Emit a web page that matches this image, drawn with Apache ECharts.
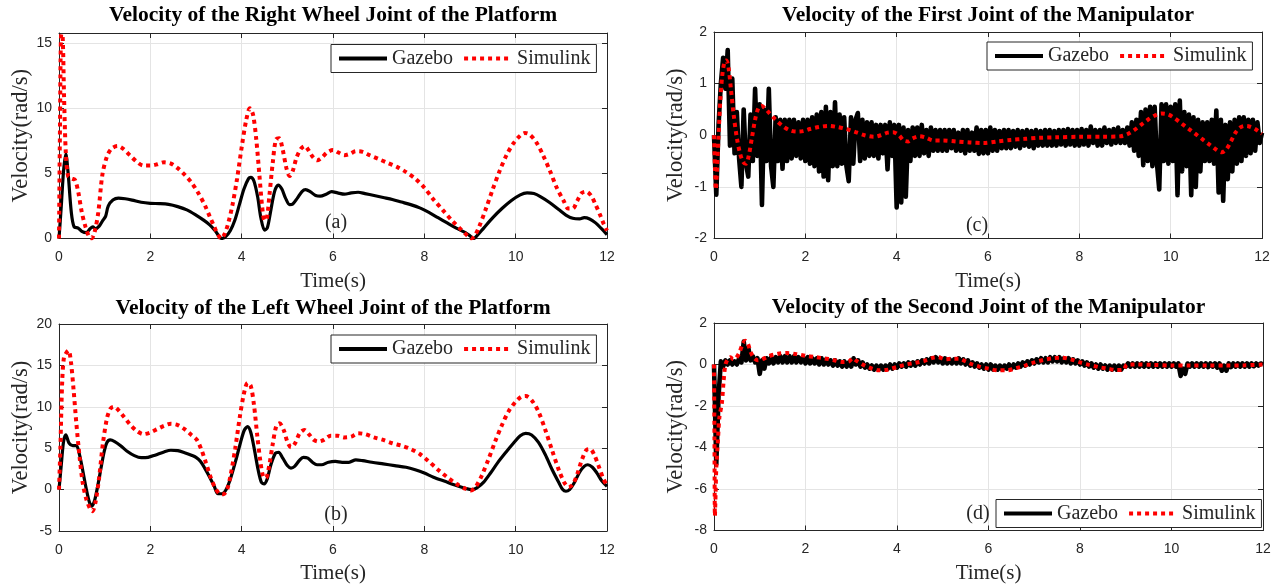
<!DOCTYPE html>
<html>
<head>
<meta charset="utf-8">
<script src="https://cdn.jsdelivr.net/npm/echarts@6.0.0/dist/echarts.min.js"></script>
<style>
  html, body { margin: 0; padding: 0; background: #ffffff; }
  #chart { width: 1281px; height: 585px; }
</style>
</head>
<body>
<div id="chart"></div>
<script>
// ---- Panel texts ----
const titles = [
  'Velocity of the Right Wheel Joint of the Platform',
  'Velocity of the Left Wheel Joint of the Platform',
  'Velocity of the First Joint of the Manipulator',
  'Velocity of the Second Joint of the Manipulator'
];
const tags = ['(a)', '(b)', '(c)', '(d)'];
const seriesNames = ['Gazebo', 'Simulink'];
const xLabel = 'Time(s)';
const yLabel = 'Velocity(rad/s)';

// ---- Axis ranges (tick spacing) ----
const xRange = { min: 0, max: 12, interval: 2 };
const yRanges = [
  { min: 0, max: 15.78, interval: 5 },
  { min: -5, max: 20, interval: 5 },
  { min: -2, max: 2, interval: 1 },
  { min: -8, max: 2, interval: 2 }
];

// ---- (a) right wheel joint, [time s, rad/s] ----
const rightWheelGazebo = [
  [0,0],[0.05,2.5],[0.1,5.2],[0.15,6.5],[0.2,5.0],[0.27,2.0],[0.33,0.9],[0.42,0.8],[0.5,0.55],[0.6,0.45],
  [0.68,0.75],[0.74,0.9],[0.8,0.75],[0.88,0.95],[0.96,1.4],[1.02,1.7],[1.08,2.5],[1.18,2.95],[1.3,3.1],[1.45,3.05],
  [1.6,2.95],[1.8,2.78],[2.0,2.7],[2.2,2.68],[2.4,2.62],[2.6,2.45],[2.8,2.2],[3.0,1.8],[3.15,1.45],[3.3,1.05],
  [3.42,0.6],[3.5,0.2],[3.56,0.0],[3.65,0.15],[3.75,0.6],[3.85,1.4],[3.95,2.6],[4.05,3.8],[4.15,4.6],[4.2,4.7],
  [4.27,4.4],[4.35,3.2],[4.42,1.6],[4.5,0.65],[4.56,0.8],[4.63,2.0],[4.72,3.6],[4.8,4.1],[4.88,3.8],[4.96,3.1],
  [5.05,2.6],[5.12,2.65],[5.22,3.1],[5.32,3.6],[5.4,3.75],[5.5,3.6],[5.62,3.3],[5.72,3.25],[5.85,3.4],[5.97,3.6],
  [6.1,3.5],[6.25,3.4],[6.4,3.5],[6.55,3.55],[6.7,3.45],[6.9,3.3],[7.1,3.15],[7.3,3.0],[7.5,2.8],[7.7,2.6],
  [7.9,2.35],[8.1,2.0],[8.3,1.6],[8.5,1.2],[8.7,0.8],[8.9,0.45],[9.0,0.2],[9.08,0.0],[9.15,0.2],[9.3,0.8],
  [9.5,1.6],[9.7,2.3],[9.9,2.9],[10.1,3.35],[10.25,3.5],[10.4,3.45],[10.55,3.2],[10.75,2.75],[10.95,2.2],[11.1,1.8],
  [11.25,1.55],[11.4,1.5],[11.5,1.6],[11.62,1.5],[11.75,1.2],[11.88,0.75],[12,0.3]
];
const rightWheelSimulink = [
  [0,0],[0.02,8],[0.05,15.7],[0.08,15.5],[0.11,11],[0.15,6.5],[0.2,4.8],[0.28,4.6],[0.35,4.5],[0.42,3.6],
  [0.5,2.0],[0.58,0.9],[0.65,0.2],[0.71,0.0],[0.78,0.5],[0.86,2.0],[0.95,4.9],[1.05,6.3],[1.15,6.9],[1.28,7.1],
  [1.4,6.9],[1.55,6.4],[1.7,5.9],[1.85,5.6],[2.0,5.6],[2.15,5.7],[2.3,5.85],[2.45,5.75],[2.6,5.4],[2.75,4.9],
  [2.9,4.3],[3.05,3.5],[3.2,2.5],[3.3,1.7],[3.4,0.9],[3.48,0.3],[3.55,0.0],[3.62,0.3],[3.7,1.1],[3.8,2.6],
  [3.9,4.6],[4.0,7.0],[4.1,9.1],[4.18,10.0],[4.25,9.5],[4.32,7.6],[4.39,4.8],[4.45,2.4],[4.5,1.4],[4.55,1.5],
  [4.61,3.4],[4.68,5.8],[4.75,7.6],[4.82,7.7],[4.9,6.8],[4.98,5.4],[5.05,4.8],[5.12,5.2],[5.2,6.2],[5.3,6.9],
  [5.38,7.1],[5.46,6.8],[5.55,6.3],[5.65,6.0],[5.75,6.2],[5.87,6.6],[6.0,6.8],[6.12,6.6],[6.25,6.4],[6.37,6.5],
  [6.5,6.7],[6.65,6.65],[6.8,6.4],[7.0,6.1],[7.2,5.8],[7.4,5.5],[7.6,5.1],[7.8,4.6],[8.0,3.9],[8.2,3.0],
  [8.4,2.2],[8.6,1.4],[8.8,0.7],[8.95,0.2],[9.03,0.0],[9.1,0.2],[9.2,0.9],[9.35,2.3],[9.5,3.8],[9.65,5.2],
  [9.8,6.4],[9.95,7.3],[10.1,7.9],[10.2,8.1],[10.3,8.0],[10.45,7.4],[10.6,6.4],[10.75,5.2],[10.9,3.9],[11.05,2.9],
  [11.15,2.3],[11.25,2.3],[11.35,2.9],[11.45,3.5],[11.55,3.6],[11.65,3.3],[11.75,2.6],[11.85,1.8],[11.93,1.1],[12,0.6]
];

// ---- (b) left wheel joint, [time s, rad/s] ----
const leftWheelGazebo = [
  [0,0],[0.05,3.0],[0.1,5.8],[0.15,6.6],[0.22,5.6],[0.3,5.3],[0.38,5.3],[0.45,4.2],[0.52,2.3],[0.6,0.0],
  [0.67,-1.6],[0.72,-2.0],[0.78,-1.3],[0.85,0.5],[0.92,2.6],[0.99,4.6],[1.05,5.7],[1.12,6.0],[1.22,5.8],[1.35,5.3],
  [1.5,4.6],[1.65,4.1],[1.8,3.85],[1.95,3.9],[2.1,4.15],[2.3,4.55],[2.45,4.75],[2.6,4.7],[2.75,4.45],[2.9,4.15],
  [3.0,3.9],[3.1,3.4],[3.2,2.5],[3.3,1.5],[3.4,0.4],[3.48,-0.5],[3.57,-0.5],[3.66,0.0],[3.76,1.4],[3.88,3.7],
  [3.98,5.8],[4.06,7.2],[4.13,7.6],[4.2,6.9],[4.28,4.8],[4.36,2.4],[4.43,0.9],[4.49,0.7],[4.56,1.3],[4.64,3.0],
  [4.74,4.4],[4.81,4.5],[4.9,3.8],[5.0,2.9],[5.08,2.6],[5.16,2.8],[5.26,3.5],[5.35,3.9],[5.45,3.8],[5.55,3.3],
  [5.65,3.0],[5.75,3.0],[5.9,3.3],[6.05,3.4],[6.2,3.3],[6.35,3.3],[6.5,3.6],[6.65,3.5],[6.85,3.3],[7.1,3.1],
  [7.35,2.9],[7.6,2.7],[7.8,2.4],[8.0,2.0],[8.2,1.5],[8.45,1.0],[8.7,0.5],[8.9,0.15],[9.05,0.0],[9.15,0.2],
  [9.3,0.9],[9.45,2.0],[9.6,3.2],[9.8,4.6],[9.95,5.6],[10.1,6.5],[10.22,6.8],[10.35,6.6],[10.5,5.7],[10.65,4.2],
  [10.8,2.4],[10.95,0.8],[11.03,0.0],[11.1,-0.2],[11.18,0.0],[11.28,0.8],[11.4,2.1],[11.5,2.8],[11.58,3.0],[11.68,2.7],
  [11.78,2.0],[11.88,1.1],[12,0.4]
];
const leftWheelSimulink = [
  [0,0],[0.03,5],[0.07,13],[0.11,16],[0.17,16.6],[0.21,16.8],[0.26,15.5],[0.32,12],[0.38,8],[0.45,4.0],
  [0.52,0.8],[0.6,-1.2],[0.68,-2.3],[0.73,-2.6],[0.8,-1.5],[0.88,1.5],[0.96,5.5],[1.05,8.6],[1.13,9.8],[1.2,10.0],
  [1.3,9.6],[1.42,8.8],[1.55,7.9],[1.7,7.1],[1.85,6.7],[2.0,6.9],[2.15,7.3],[2.3,7.7],[2.45,7.95],[2.6,7.8],
  [2.75,7.3],[2.9,6.6],[3.02,6.0],[3.12,4.8],[3.22,3.2],[3.32,1.5],[3.42,0.2],[3.52,-0.5],[3.6,-0.55],[3.68,0.0],
  [3.76,1.8],[3.86,5.0],[3.96,8.8],[4.05,11.6],[4.13,12.9],[4.2,12.5],[4.27,10.2],[4.34,6.6],[4.41,3.4],[4.47,1.6],
  [4.53,1.4],[4.6,2.8],[4.68,5.5],[4.76,7.7],[4.83,8.0],[4.92,7.2],[5.0,5.8],[5.08,5.1],[5.17,5.6],[5.27,6.8],
  [5.37,7.2],[5.47,6.7],[5.58,6.0],[5.68,5.8],[5.8,6.0],[5.95,6.5],[6.1,6.5],[6.25,6.3],[6.4,6.4],[6.55,6.8],
  [6.7,6.7],[6.9,6.3],[7.1,6.0],[7.3,5.6],[7.5,5.3],[7.7,4.9],[7.9,4.3],[8.1,3.4],[8.3,2.4],[8.5,1.5],
  [8.7,0.7],[8.9,0.1],[9.02,-0.1],[9.12,0.3],[9.25,1.6],[9.4,3.6],[9.55,5.8],[9.7,7.8],[9.85,9.5],[10.0,10.6],
  [10.12,11.2],[10.22,11.3],[10.35,10.8],[10.5,9.4],[10.65,7.2],[10.8,4.7],[10.95,2.3],[11.07,0.8],[11.16,0.3],[11.25,0.6],
  [11.35,1.9],[11.45,3.6],[11.55,4.8],[11.63,4.9],[11.72,4.2],[11.82,2.8],[11.92,1.3],[12,0.5]
];

// ---- (c) first manipulator joint ----
// Gazebo is logged every 0.05 s (one row per second)
const firstJointGazebo = [
  0.0,-1.15,0.2,1.0,1.5,0.9,1.65,-0.2,1.1,-0.35,0.45,-0.45,-1.0,0.5,-0.55,-0.8,0.4,-0.5,0.9,-0.4,
  0.6,-1.35,0.5,-0.5,0.9,-0.6,-1.0,0.35,-0.5,0.3,-0.65,0.3,-0.5,0.3,-0.45,0.3,-0.4,0.25,-0.45,0.3,
  -0.5,0.3,-0.55,0.35,-0.6,0.4,-0.7,0.45,-0.8,0.55,-0.87,0.45,-0.6,0.64,-0.6,0.4,-0.55,0.35,-0.6,-0.89,
  0.35,-0.55,0.3,0.43,-0.5,0.3,-0.45,0.25,-0.4,0.25,-0.4,0.2,-0.45,0.2,-0.35,0.2,-0.66,0.25,-0.4,0.2,
  -1.4,0.2,-1.3,0.15,-1.19,0.1,-0.5,0.15,-0.4,0.15,-0.4,0.2,-0.35,0.1,-0.4,0.15,-0.3,0.1,-0.3,0.1,
  -0.3,0.1,-0.3,0.1,-0.25,0.1,-0.3,0.05,-0.3,0.1,-0.35,0.1,-0.3,0.05,-0.3,0.15,-0.36,0.1,-0.35,0.1,
  -0.35,0.15,-0.3,0.1,-0.3,0.08,-0.25,0.1,-0.25,0.1,-0.25,0.08,-0.22,0.1,-0.25,0.08,-0.2,0.1,-0.22,0.08,
  -0.25,0.1,-0.2,0.08,-0.2,0.1,-0.2,0.1,-0.2,0.08,-0.2,0.1,-0.18,0.1,-0.2,0.12,-0.18,0.1,-0.2,0.1,
  -0.2,0.12,-0.18,0.1,-0.2,0.17,-0.15,0.1,-0.2,0.1,-0.2,0.15,-0.15,0.1,-0.18,0.12,-0.15,0.15,-0.15,0.1,
  -0.15,0.15,-0.2,0.25,-0.3,0.3,-0.4,0.45,-0.58,0.5,-0.5,0.55,-0.6,0.55,-0.55,-1.05,0.6,-0.5,0.6,-0.55,
  0.55,-0.5,0.6,-1.16,0.67,-0.7,0.45,-0.6,0.4,-1.16,0.35,-1.0,0.3,-0.7,0.25,-0.5,0.25,-0.5,0.3,-0.55,
  0.48,-1.11,0.3,-1.27,0.2,-0.85,0.25,-0.7,0.3,-0.55,0.35,-0.5,0.35,-0.4,0.3,-0.35,0.3,-0.3,0.25,-0.15,
  0.05
];
const firstJointSimulink = [
  [0,0],[0.02,-0.6],[0.04,-1.05],[0.07,-0.6],[0.1,0.0],[0.14,0.7],[0.18,1.15],[0.23,1.42],[0.27,1.45],[0.32,1.3],
  [0.37,0.9],[0.43,0.4],[0.5,-0.05],[0.57,-0.35],[0.64,-0.52],[0.7,-0.55],[0.76,-0.4],[0.83,-0.05],[0.9,0.3],[0.97,0.52],
  [1.04,0.57],[1.12,0.52],[1.22,0.42],[1.35,0.3],[1.5,0.18],[1.65,0.1],[1.8,0.07],[1.95,0.08],[2.1,0.12],[2.3,0.16],
  [2.5,0.18],[2.7,0.16],[2.9,0.12],[3.1,0.06],[3.3,0.0],[3.5,-0.03],[3.65,0.0],[3.8,0.05],[3.92,0.06],[4.05,0.0],
  [4.15,-0.1],[4.25,-0.12],[4.35,-0.06],[4.5,-0.02],[4.65,-0.05],[4.8,-0.1],[5.0,-0.1],[5.3,-0.12],[5.6,-0.14],[5.9,-0.15],
  [6.2,-0.12],[6.5,-0.09],[6.8,-0.07],[7.1,-0.05],[7.5,-0.04],[8.0,-0.03],[8.5,-0.03],[8.9,-0.02],[9.05,0.02],[9.2,0.1],
  [9.35,0.2],[9.5,0.3],[9.65,0.38],[9.8,0.42],[9.95,0.4],[10.1,0.32],[10.25,0.22],[10.4,0.12],[10.55,0.02],[10.7,-0.08],
  [10.85,-0.18],[11.0,-0.28],[11.12,-0.33],[11.22,-0.27],[11.32,-0.12],[11.42,0.05],[11.52,0.15],[11.62,0.18],[11.72,0.17],[11.85,0.12],
  [12,0.03]
];

// ---- (d) second manipulator joint ----
const secondJointGazebo = [
  0.0,-4.8,-1.5,0.15,-0.1,0.2,0.0,0.2,0.0,0.15,0.0,0.3,0.1,1.1,0.2,0.8,0.2,0.4,0.1,0.3,
  -0.45,0.2,-0.2,0.3,0.05,0.35,0.05,0.35,0.1,0.4,0.1,0.4,0.1,0.4,0.1,0.4,0.1,0.35,0.1,0.35,
  0.05,0.35,0.05,0.3,0.05,0.3,0.0,0.3,0.0,0.25,0.0,0.2,-0.05,0.2,-0.05,0.15,-0.1,0.15,-0.1,0.1,
  -0.1,0.3,0.0,0.2,-0.1,0.1,-0.15,0.0,-0.2,-0.05,-0.25,-0.05,-0.25,-0.05,-0.25,-0.05,-0.2,0.0,-0.2,0.0,
  -0.15,0.05,-0.1,0.05,-0.1,0.1,-0.05,0.1,-0.05,0.15,0.0,0.2,0.05,0.25,0.05,0.3,0.1,0.35,0.1,0.3,
  0.05,0.3,0.05,0.25,0.05,0.25,0.05,0.3,0.05,0.25,0.0,0.2,-0.05,0.1,-0.1,0.05,-0.15,0.0,-0.2,0.0,
  -0.25,0.0,-0.25,-0.05,-0.25,-0.05,-0.25,-0.05,-0.2,0.0,-0.2,0.0,-0.15,0.05,-0.1,0.1,-0.05,0.15,0.0,0.2,
  0.05,0.25,0.1,0.3,0.1,0.3,0.1,0.35,0.15,0.35,0.15,0.35,0.1,0.3,0.1,0.3,0.05,0.25,0.05,0.2,
  0.0,0.15,-0.05,0.1,-0.1,0.05,-0.15,0.0,-0.2,0.0,-0.2,-0.05,-0.25,-0.05,-0.25,-0.05,-0.25,-0.05,-0.25,-0.05,
  -0.1,0.05,-0.1,0.05,-0.1,0.05,-0.1,0.05,-0.1,0.05,-0.1,0.05,-0.1,0.05,-0.1,0.05,-0.1,0.05,-0.1,0.05,
  -0.1,0.05,-0.1,0.05,-0.55,-0.2,-0.45,0.05,-0.1,0.05,-0.1,0.05,-0.1,0.05,-0.1,0.05,-0.12,0.05,-0.1,0.05,
  -0.15,0.05,-0.3,-0.05,-0.3,0.05,-0.12,0.05,-0.1,0.05,-0.1,0.05,-0.1,0.05,-0.1,0.05,-0.08,0.05,-0.05,0.05,
  0.0
];
const secondJointSimulink = [
  [0,0],[0.01,-3.5],[0.02,-7.3],[0.035,-6.2],[0.05,-5.0],[0.09,-3.5],[0.12,-2.5],[0.17,-1.9],[0.21,-0.8],[0.25,0.0],
  [0.3,0.25],[0.36,0.35],[0.42,0.25],[0.48,0.3],[0.55,0.55],[0.62,0.95],[0.68,1.15],[0.74,1.0],[0.8,0.6],[0.88,0.3],
  [0.96,0.2],[1.05,0.25],[1.2,0.4],[1.4,0.52],[1.6,0.55],[1.8,0.5],[2.0,0.42],[2.2,0.36],[2.4,0.3],[2.6,0.22],
  [2.8,0.12],[2.95,0.15],[3.03,0.3],[3.1,0.2],[3.25,0.0],[3.4,-0.15],[3.6,-0.28],[3.8,-0.25],[4.0,-0.12],[4.2,0.0],
  [4.4,0.08],[4.6,0.18],[4.8,0.33],[4.9,0.35],[5.05,0.25],[5.2,0.28],[5.35,0.28],[5.5,0.15],[5.65,0.0],[5.8,-0.1],
  [6.0,-0.2],[6.2,-0.28],[6.4,-0.28],[6.6,-0.18],[6.8,-0.05],[7.0,0.1],[7.2,0.22],[7.4,0.3],[7.6,0.33],[7.8,0.25],
  [8.0,0.1],[8.2,-0.02],[8.4,-0.12],[8.6,-0.2],[8.8,-0.27],[8.95,-0.25],[9.03,0.0],[9.2,0.0],[9.6,-0.02],[10.0,-0.05],
  [10.4,-0.05],[10.8,-0.05],[11.2,-0.05],[11.6,-0.04],[12,0.0]
];

const SAMPLE_STEP = 0.05;
const withSampleTimes = values => values.map((v, i) => [Math.round(i * SAMPLE_STEP * 100) / 100, v]);

// ---- Layout of the 2x2 figure ----
const INK = '#262626';
const SERIF = '"Liberation Serif", "Times New Roman", serif';
const SANS = '"Liberation Sans", Arial, sans-serif';

const panels = [
  { box: { left: 59,  top: 33,  width: 548, height: 205.5 }, legend: { left: 331, top: 44.5 },
    gazebo: rightWheelGazebo, simulink: rightWheelSimulink, noisy: false, titleY: 15, tagAt: [336, 223] },
  { box: { left: 59,  top: 324, width: 548, height: 207 },   legend: { left: 331, top: 335 },
    gazebo: leftWheelGazebo, simulink: leftWheelSimulink, noisy: false, titleY: 308, tagAt: [336, 515] },
  { box: { left: 714, top: 32,  width: 548, height: 206.5 }, legend: { left: 987, top: 42 },
    gazebo: withSampleTimes(firstJointGazebo), simulink: firstJointSimulink, noisy: true, titleY: 15, tagAt: [977, 226] },
  { box: { left: 714, top: 323, width: 549, height: 207.5 }, legend: { left: 996, top: 499.5 },
    gazebo: withSampleTimes(secondJointGazebo), simulink: secondJointSimulink, noisy: true, titleY: 307, tagAt: [978, 514] }
];

const grid = [], xAxis = [], yAxis = [], series = [], legend = [], graphic = [];

panels.forEach((p, i) => {
  grid.push(Object.assign({ containLabel: false, show: false }, p.box));
  const yr = yRanges[i];

  const tickIn = { show: true, inside: true, length: 5, lineStyle: { color: INK, width: 1 } };
  const axisLn = { show: true, onZero: false, lineStyle: { color: INK, width: 1 } };

  // bottom x axis with labels and grid lines
  xAxis.push({
    type: 'value', gridIndex: i, position: 'bottom', min: xRange.min, max: xRange.max, interval: xRange.interval,
    name: xLabel, nameLocation: 'middle', nameGap: 32,
    nameTextStyle: { fontFamily: SERIF, fontSize: 21, color: INK },
    axisLine: axisLn, axisTick: tickIn,
    axisLabel: { color: INK, fontFamily: SANS, fontSize: 14, margin: 12 },
    splitLine: { show: true, lineStyle: { color: '#e4e4e4', width: 1 } }
  });
  // top mirror axis (box outline + ticks)
  xAxis.push({
    type: 'value', gridIndex: i, position: 'top', min: xRange.min, max: xRange.max, interval: xRange.interval,
    axisLine: axisLn, axisTick: tickIn, axisLabel: { show: false }, splitLine: { show: false }
  });
  // left y axis
  yAxis.push({
    type: 'value', gridIndex: i, position: 'left', min: yr.min, max: yr.max, interval: yr.interval,
    name: yLabel, nameLocation: 'middle', nameGap: 26,
    nameTextStyle: { fontFamily: SERIF, fontSize: 22.5, color: INK },
    axisLine: axisLn, axisTick: tickIn,
    axisLabel: { color: INK, fontFamily: SANS, fontSize: 14, margin: 7, showMaxLabel: Number.isInteger(yr.max / yr.interval) },
    splitLine: { show: true, lineStyle: { color: '#e4e4e4', width: 1 } }
  });
  // right mirror axis
  yAxis.push({
    type: 'value', gridIndex: i, position: 'right', min: yr.min, max: yr.max, interval: yr.interval,
    axisLine: axisLn, axisTick: tickIn, axisLabel: { show: false }, splitLine: { show: false }
  });

  // noisy logs are drawn with a wider pen so the dense oscillation reads as a solid band
  series.push({
    name: seriesNames[0], type: 'line', xAxisIndex: 2 * i, yAxisIndex: 2 * i,
    data: p.gazebo, symbol: 'none', smooth: p.noisy ? false : 0.3,
    lineStyle: { color: '#000000', width: p.noisy ? 4.6 : 3.2, type: 'solid', join: 'round' },
    itemStyle: { color: '#000000' }, animation: false, z: 2
  });
  series.push({
    name: seriesNames[1], type: 'line', xAxisIndex: 2 * i, yAxisIndex: 2 * i,
    data: p.simulink, symbol: 'none', smooth: 0.3,
    lineStyle: { color: '#ff0000', width: 4, type: [4, 4], cap: 'butt' },
    itemStyle: { color: '#ff0000' }, animation: false, z: 3
  });

  legend.push({
    show: true, left: p.legend.left, top: p.legend.top, orient: 'horizontal',
    data: seriesNames.map(n => ({ name: n })),
    selectedMode: false,
    backgroundColor: '#ffffff', borderColor: INK, borderWidth: 1, borderRadius: 0,
    padding: [4, 6, 4, 6], itemGap: 9, itemWidth: 48, itemHeight: 14,
    textStyle: { fontFamily: SERIF, fontSize: 20, color: INK },
    itemStyle: { opacity: 0 },
    lineStyle: { width: 4 }
  });

  const cx = p.box.left + p.box.width / 2;
  graphic.push({
    type: 'text', z: 100,
    style: { text: titles[i], x: cx, y: p.titleY, align: 'center', verticalAlign: 'middle',
             textAlign: 'center', textVerticalAlign: 'middle',
             font: 'bold 21.5px ' + SERIF, fill: '#000000' }
  });
  graphic.push({
    type: 'text', z: 100,
    style: { text: tags[i], x: p.tagAt[0], y: p.tagAt[1], align: 'center', verticalAlign: 'middle',
             textAlign: 'center', textVerticalAlign: 'middle',
             font: '20px ' + SERIF, fill: INK }
  });
});

const chart = echarts.init(document.getElementById('chart'), null, { renderer: 'canvas' });
chart.setOption({
  backgroundColor: '#ffffff',
  animation: false,
  grid, xAxis, yAxis, series, legend, graphic
});
</script>
</body>
</html>
